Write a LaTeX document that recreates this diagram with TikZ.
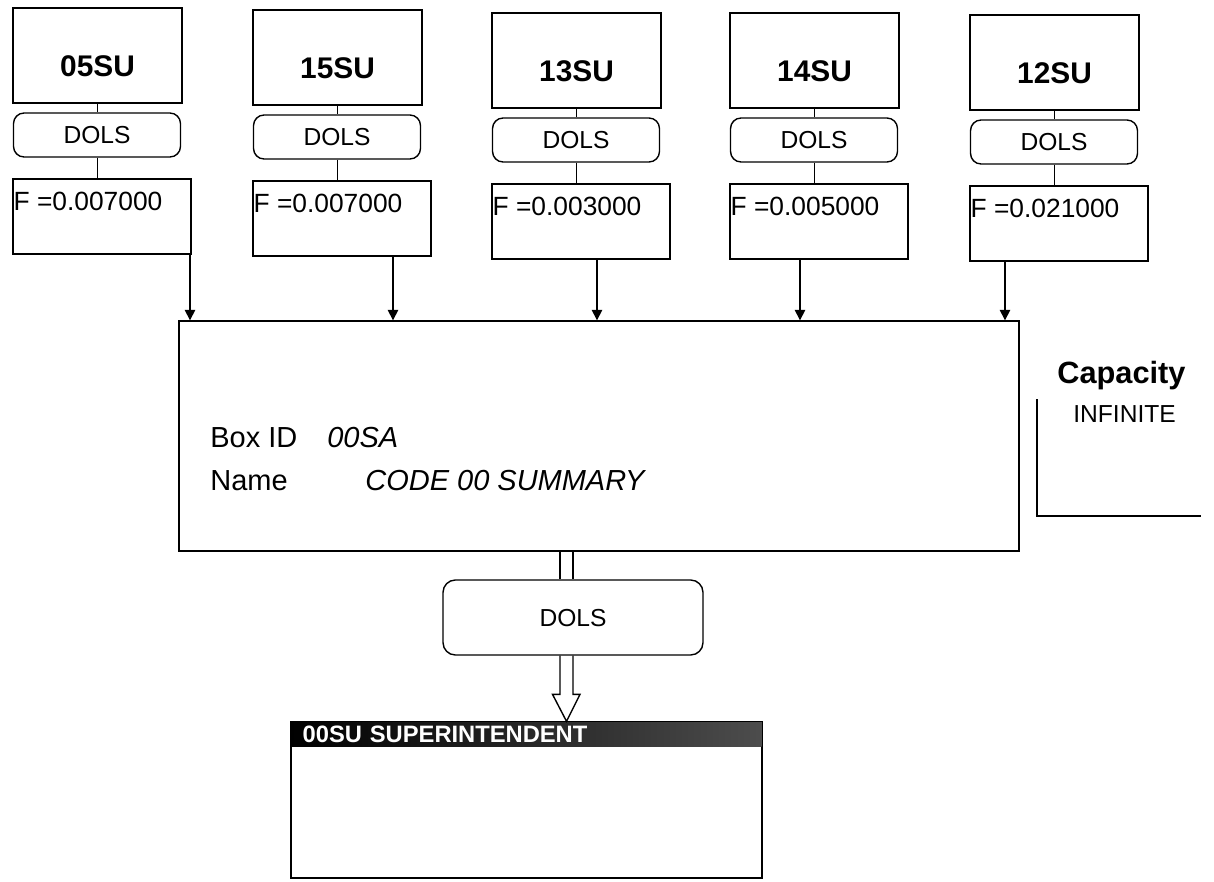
\documentclass[tikz,border=0pt]{standalone}
\usepackage{fontspec}
\setmainfont{Liberation Sans}
\usetikzlibrary{arrows.meta}

\tikzset{
  unitbox/.style={draw, line width=0.8pt, minimum width=3.38cm, minimum height=1.9cm, inner sep=0pt,
    text height=23.6pt, text depth=0pt, font=\bfseries\fontsize{17}{19}\selectfont},
  dolspill/.style={draw, line width=0.8pt, rounded corners=6pt, minimum width=3.34cm, minimum height=0.88cm,
    inner sep=0pt, text height=10pt, text depth=0pt, font=\fontsize{14}{16}\selectfont},
  factorbox/.style={draw, line width=0.8pt, minimum width=3.56cm, minimum height=1.5cm, inner sep=0pt},
  factortext/.style={anchor=north west, inner sep=0pt, font=\fontsize{15}{17}\selectfont},
  boxtext/.style={anchor=base west, inner sep=0pt, font=\fontsize{16.5}{18}\selectfont},
  feed/.style={line width=0.8pt, -{Triangle[length=6pt,width=6pt]}},
  link/.style={line width=0.8pt}
}

\begin{document}
\begin{tikzpicture}[x=0.02cm, y=-0.02cm]
  \useasboundingbox (0,0) rectangle (1214,882);

  % Summary box
  \node[draw, line width=0.8pt, minimum width=16.8cm, minimum height=4.6cm] (main) at (599,436) {};
  \node[boxtext] (boxid) at (210,447) {Box ID};
  \node[boxtext, font=\itshape\fontsize{16.5}{18}\selectfont] (boxidval) at (327,447) {00SA};
  \node[boxtext] (name) at (210,490) {Name};
  \node[boxtext, font=\itshape\fontsize{16.5}{18}\selectfont] (nameval) at (365,490) {CODE 00 SUMMARY};

  % Feeding units: top box, DOLS, factor box, arrow into summary
  \foreach \i/\lft/\ty/\lbl/\fval/\ax in {1/13/8/05SU/0.007000/190, 2/253/10/15SU/0.007000/393,
      3/492/13/13SU/0.003000/597, 4/730/13/14SU/0.005000/800, 5/970/15/12SU/0.021000/1005} {
    \node[unitbox] (unit\i) at ({\lft+84.5},{\ty+47.5}) {\lbl};
    \node[dolspill] (dols\i) at ({\lft+84},{\ty+127}) {DOLS};
    \node[factorbox] (fac\i) at ({\lft+89},{\ty+208.5}) {};
    \node[factortext] (fval\i) at ([shift={(1,13)}]fac\i.north west) {F =\fval};
    \draw[link] (unit\i.south) -- (dols\i.north -| unit\i.south);
    \draw[link] (dols\i.south -| unit\i.south) -- (fac\i.north -| unit\i.south);
    \coordinate (in\i) at (\ax,0);
    \draw[feed] (fac\i.south -| in\i) -- (main.north -| in\i);
  }

  % Capacity
  \node[anchor=base west, inner sep=0pt, font=\bfseries\fontsize{17.5}{19}\selectfont] (caplabel) at (1057,383) {Capacity};
  \node[anchor=base west, inner sep=0pt, font=\fontsize{14}{16}\selectfont] (capvalue) at (1073,422) {INFINITE};
  \draw[link] (1037,399) -- (1037,516) -- (1201,516);

  % Output DOLS and superintendent
  \node[draw, line width=0.8pt, rounded corners=7pt, minimum width=5.2cm, minimum height=1.5cm,
    inner sep=0pt, text height=10pt, text depth=0pt, font=\fontsize{14}{16}\selectfont] (outdols) at (573,617.5) {DOLS};
  \node[draw, line width=0.8pt, minimum width=9.42cm, minimum height=3.12cm] (super) at (526.5,800) {};
  \node[anchor=north west, left color=black, middle color=black, right color=black!70, text=white,
    minimum height=0.5cm, inner xsep=0.24cm, inner ysep=0pt, text width=8.94cm, align=left,
    text height=9.6pt, text depth=0pt, font=\bfseries\fontsize{13.5}{14}\selectfont] (supertitle) at (super.north west) {00SU SUPERINTENDENT};
  \draw[link] (super.north west) rectangle (super.south east);

  \coordinate (pipeL) at (560,0);
  \coordinate (pipeR) at (573,0);
  \coordinate (pipe) at (566.5,0);
  \draw[link] (main.south -| pipeL) -- (outdols.north -| pipeL);
  \draw[link] (main.south -| pipeR) -- (outdols.north -| pipeR);
  \coordinate (tip) at (super.north -| pipe);
  \path (tip) ++(0,-27) coordinate (headbase);
  \draw[link, line join=miter] (outdols.south -| pipeL) -- (headbase -| pipeL) -- ++(-7.5,0) -- (tip)
    -- ++(13.5,-27) -- ++(-7,0) -- (outdols.south -| pipeR);
\end{tikzpicture}
\end{document}
